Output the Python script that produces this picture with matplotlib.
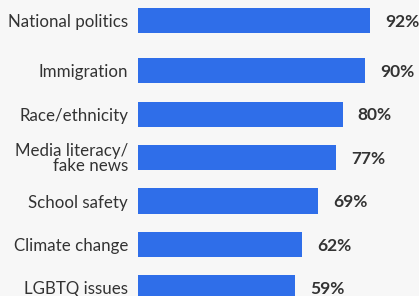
import numpy as np
import matplotlib
matplotlib.use('Agg')
import matplotlib.pyplot as plt

# data
topics = ['National politics', 'Immigration', 'Race/ethnicity',
          'Media literacy/\nfake news', 'School safety', 'Climate change',
          'LGBTQ issues']
shares = [92, 90, 80, 77, 69, 62, 59]

bar_color = '#2f6ee9'
text_color = '#333333'
bg = '#f7f7f7'

plt.rcParams['font.family'] = ['Lato', 'DejaVu Sans']

fig = plt.figure(figsize=(4.19, 2.96), dpi=100, facecolor=bg)
ax = fig.add_axes([138 / 419, 0, 281 / 419, 1], facecolor=bg)

# slot positions, first row sits a bit higher
pos = np.arange(len(topics), dtype=float)
pos[0] -= 0.15

base = -10.13
vals = np.array(shares, dtype=float)
ax.barh(pos, vals - base, left=base, height=0.575, color=bar_color)

for p, v in zip(pos, vals):
    ax.annotate('%d%%' % v, (v, p), xytext=(11, -1), textcoords='offset points',
                ha='left', va='center', fontsize=12.5, fontweight='bold',
                color=text_color)

ax.set_xlim(base, 113.66)
ax.set_ylim(6.184, -0.621)
ax.set_yticks(pos)
ax.set_yticklabels(topics, fontsize=12.2, color=text_color, linespacing=0.9)
ax.tick_params(axis='y', length=0, pad=7.2)
ax.set_xticks([])
for s in ax.spines.values():
    s.set_visible(False)

plt.savefig('out.png', dpi=100, facecolor=bg)
